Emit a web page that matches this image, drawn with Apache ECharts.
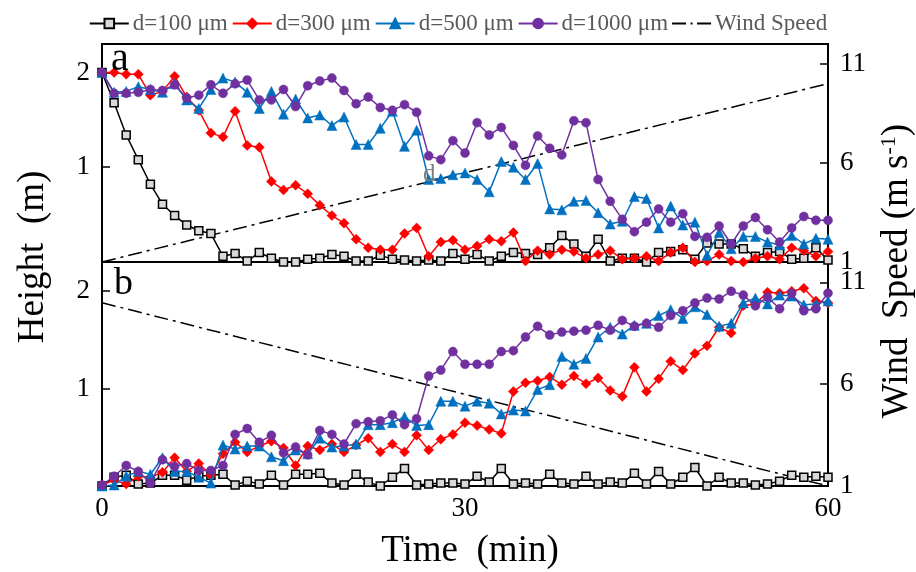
<!DOCTYPE html>
<html>
<head>
<meta charset="utf-8">
<script src="https://cdn.jsdelivr.net/npm/echarts@6/dist/echarts.min.js"></script>
<style>html,body{margin:0;padding:0;background:#fff}#chart{width:916px;height:572px}</style>
</head>
<body>
<div id="chart"></div>
<script>
// Time (min)
var timeMin = [0,1,2,3,4,5,6,7,8,9,10,11,12,13,14,15,16,17,18,19,20,21,22,23,24,25,26,27,28,29,30,31,32,33,34,35,36,37,38,39,40,41,42,43,44,45,46,47,48,49,50,51,52,53,54,55,56,57,58,59,60];

// Panel a (heights, m)
var a_d100 = [2.0,1.68,1.34,1.08,0.82,0.61,0.49,0.39,0.33,0.30,0.06,0.09,0.01,0.10,0.04,0.00,0.00,0.03,0.04,0.08,0.06,0.01,0.01,0.07,0.03,0.02,0.01,0.02,0.01,0.09,0.03,0.08,0.01,0.06,0.10,0.09,0.08,0.15,0.28,0.19,0.06,0.24,0.01,0.04,0.04,0.00,0.10,0.11,0.13,0.03,0.20,0.19,0.19,0.14,0.06,0.10,0.11,0.03,0.04,0.15,0.02];
var a_d300 = [2.0,2.0,1.98,1.98,1.76,1.80,1.96,1.74,1.60,1.36,1.32,1.59,1.23,1.21,0.85,0.76,0.81,0.72,0.60,0.49,0.41,0.24,0.15,0.13,0.13,0.30,0.36,0.06,0.21,0.23,0.13,0.17,0.24,0.22,0.31,0.01,0.12,0.08,0.13,0.11,0.04,0.08,0.12,0.03,0.04,0.06,0.01,0.10,0.15,0.00,0.01,0.08,0.01,0.00,0.04,0.06,0.03,0.15,0.12,0.06,0.11];
var a_d500 = [2.0,1.79,1.80,1.85,1.82,1.79,1.88,1.71,1.62,1.82,1.94,1.90,1.79,1.62,1.80,1.56,1.72,1.52,1.55,1.44,1.53,1.24,1.24,1.41,1.59,1.22,1.39,0.87,0.88,0.92,0.94,0.87,0.74,1.06,1.00,0.87,1.04,0.56,0.55,0.64,0.65,0.52,0.40,0.43,0.69,0.67,0.36,0.59,0.39,0.42,0.07,0.31,0.14,0.27,0.27,0.21,0.18,0.28,0.19,0.25,0.24];
var a_d1000 = [2.0,1.78,1.78,1.79,1.82,1.81,1.87,1.73,1.76,1.87,1.78,1.88,1.92,1.71,1.71,1.82,1.64,1.86,1.91,1.94,1.81,1.67,1.74,1.63,1.60,1.66,1.58,1.12,1.08,1.28,1.15,1.47,1.34,1.42,1.23,1.02,1.33,1.20,1.13,1.49,1.47,0.87,0.64,0.45,0.32,0.42,0.56,0.42,0.51,0.27,0.26,0.38,0.19,0.38,0.47,0.34,0.21,0.36,0.48,0.44,0.44];

// Panel b (heights, m)
var b_d100 = [0.00,0.09,0.11,0.02,0.03,0.11,0.11,0.06,0.10,0.11,0.12,0.01,0.05,0.02,0.11,0.01,0.12,0.12,0.13,0.03,0.01,0.12,0.04,0.00,0.09,0.18,0.01,0.02,0.03,0.03,0.02,0.10,0.04,0.18,0.02,0.03,0.02,0.12,0.03,0.02,0.10,0.02,0.04,0.03,0.13,0.02,0.15,0.02,0.09,0.19,0.00,0.09,0.03,0.03,0.01,0.02,0.05,0.11,0.09,0.10,0.09];
var b_d300 = [0.01,0.06,0.02,0.10,0.09,0.14,0.29,0.15,0.23,0.11,0.33,0.45,0.35,0.41,0.46,0.39,0.21,0.41,0.37,0.43,0.35,0.42,0.49,0.35,0.43,0.35,0.52,0.37,0.48,0.53,0.65,0.62,0.58,0.54,0.97,1.06,1.08,1.12,1.04,1.13,1.05,1.11,0.98,0.92,1.22,0.97,1.10,1.28,1.19,1.36,1.44,1.63,1.57,1.85,1.87,1.99,1.98,2.00,2.03,1.90,1.88];
var b_d500 = [0.00,0.01,0.10,0.15,0.12,0.29,0.15,0.15,0.09,0.03,0.42,0.38,0.41,0.41,0.30,0.26,0.37,0.33,0.49,0.40,0.41,0.43,0.63,0.63,0.65,0.71,0.62,0.63,0.87,0.87,0.82,0.87,0.85,0.74,0.78,0.77,0.99,1.04,1.33,1.25,1.31,1.53,1.63,1.56,1.65,1.67,1.75,1.81,1.72,1.84,1.76,1.64,1.67,1.88,1.93,1.87,1.96,1.95,1.86,1.87,1.90];
var b_d1000 = [0.01,0.10,0.21,0.15,0.03,0.27,0.20,0.23,0.16,0.16,0.21,0.53,0.59,0.45,0.52,0.34,0.40,0.32,0.57,0.53,0.43,0.64,0.66,0.67,0.73,0.63,0.69,1.13,1.19,1.38,1.25,1.25,1.25,1.38,1.39,1.53,1.64,1.55,1.58,1.59,1.60,1.65,1.60,1.70,1.64,1.67,1.63,1.75,1.80,1.88,1.93,1.92,2.00,1.96,1.85,1.94,1.82,1.98,1.80,1.82,1.98];

// Wind speed (m s-1)
var windTime = [0, 60];
var windA = [1, 10];
var windB = [10, 1];

// Tick labels
var xTicks = [0, 30, 60];
var heightTicks = [1, 2];
var windTicks = [1, 6, 11];

var names = ['d=100 \u03bcm', 'd=300 \u03bcm', 'd=500 \u03bcm', 'd=1000 \u03bcm', 'Wind Speed'];
var FONT = '"Liberation Serif", "Times New Roman", serif';

function pairs(xs, ys) { return xs.map(function (x, i) { return [x, ys[i]]; }); }

var styles = [
  { color: '#000000', symbol: 'rect', size: 8, fill: '#d9d9d9', border: '#000000' },
  { color: '#ff0000', symbol: 'diamond', size: 10, fill: '#ff0000', border: '#ff0000' },
  { color: '#0070c0', symbol: 'triangle', size: 10, fill: '#0070c0', border: '#0070c0' },
  { color: '#7030a0', symbol: 'circle', size: 9, fill: '#7030a0', border: '#7030a0' }
];

function heightSeries(k, data, gi) {
  var s = styles[k];
  return {
    name: names[k], type: 'line', xAxisIndex: gi, yAxisIndex: gi * 2,
    data: pairs(timeMin, data), symbol: s.symbol, symbolSize: s.size, showAllSymbol: true,
    clip: false, z: 3 + k,
    lineStyle: { color: s.color, width: 1.5 },
    itemStyle: { color: s.fill, borderColor: s.border, borderWidth: k === 0 ? 1.5 : 0.5 },
    emphasis: { disabled: true }, animation: false
  };
}
function windSeries(data, gi) {
  return {
    name: names[4], type: 'line', xAxisIndex: gi, yAxisIndex: gi * 2 + 1,
    data: pairs(windTime, data), symbol: 'none', z: 2,
    lineStyle: { color: '#000', width: 1.5, type: [14, 5, 3, 5] },
    itemStyle: { color: '#000' }, emphasis: { disabled: true }, animation: false
  };
}

function xAx(gi, showLabel) {
  return {
    type: 'value', gridIndex: gi, min: 0, max: 60, interval: 30,
    axisLine: { show: true, onZero: false, lineStyle: { color: '#000', width: 2 } },
    axisTick: { show: true, inside: true, length: 5, customValues: xTicks, lineStyle: { color: '#000', width: 1.5 } },
    axisLabel: { show: showLabel, color: '#000', fontFamily: FONT, fontSize: 27, margin: 9, customValues: xTicks },
    splitLine: { show: false }
  };
}
function yLeft(gi) {
  return {
    type: 'value', gridIndex: gi, position: 'left', min: 0, max: 2.3,
    axisLine: { show: true, onZero: false, lineStyle: { color: '#000', width: 2 } },
    axisTick: { show: true, inside: true, length: 8, customValues: heightTicks, lineStyle: { color: '#000', width: 1.5 } },
    axisLabel: { color: '#000', fontFamily: FONT, fontSize: 27, margin: 12, customValues: heightTicks },
    splitLine: { show: false }
  };
}
function yRight(gi) {
  return {
    type: 'value', gridIndex: gi, position: 'right', min: 1, max: 12,
    axisLine: { show: true, onZero: false, lineStyle: { color: '#000', width: 2 } },
    axisTick: { show: true, inside: true, length: 8, customValues: windTicks, lineStyle: { color: '#000', width: 1.5 } },
    axisLabel: { color: '#000', fontFamily: FONT, fontSize: 27, margin: 12, customValues: windTicks },
    splitLine: { show: false }
  };
}

// dash-dot legend icon (thin line centred in a 39x12 box)
var dashDotIcon = 'path://M0,0h0.01v0.01h-0.01zM0,5h14v2h-14zM18.5,5h2v2h-2zM25,5h14v2h-14zM38.99,11.99h0.01v0.01h-0.01z';

var chart = echarts.init(document.getElementById('chart'), null, { renderer: 'canvas' });
chart.setOption({
  animation: false,
  backgroundColor: '#fff',
  legend: {
    data: [names[0], names[1], names[2], names[3], { name: names[4], icon: dashDotIcon, itemStyle: { color: '#000' } }],
    top: 7, left: 'center', itemWidth: 39, itemHeight: 12, itemGap: 4,
    textStyle: { color: '#595959', fontFamily: FONT, fontSize: 23, padding: [0, 0, 0, -1] },
    selectedMode: false
  },
  grid: [
    { left: 102, right: 88, top: 44, height: 218, show: true, borderColor: '#000', borderWidth: 2, backgroundColor: 'transparent' },
    { left: 102, right: 88, top: 262, height: 224, show: true, borderColor: '#000', borderWidth: 2, backgroundColor: 'transparent' }
  ],
  xAxis: [xAx(0, false), xAx(1, true)],
  yAxis: [yLeft(0), yRight(0), yLeft(1), yRight(1)],
  series: [
    windSeries(windA, 0),
    heightSeries(0, a_d100, 0), heightSeries(1, a_d300, 0), heightSeries(2, a_d500, 0), heightSeries(3, a_d1000, 0),
    windSeries(windB, 1),
    heightSeries(0, b_d100, 1), heightSeries(1, b_d300, 1), heightSeries(2, b_d500, 1), heightSeries(3, b_d1000, 1)
  ],
  graphic: [
    { type: 'text', x: 111, y: 59, z: 20, style: { text: 'a', font: '40px ' + FONT, fill: '#000', verticalAlign: 'middle' } },
    { type: 'text', x: 114, y: 284, z: 20, style: { text: 'b', font: '38px ' + FONT, fill: '#000', verticalAlign: 'middle' } },
    { type: 'text', x: 423, y: 174, z: 20, style: { text: 'd', font: '25px ' + FONT, fill: '#7f7f7f', verticalAlign: 'middle' } },
    { type: 'text', x: 33, y: 257, rotation: Math.PI / 2, z: 20, style: { text: 'Height  (m)', font: '37px ' + FONT, fill: '#000', align: 'center', verticalAlign: 'middle' } },
    { type: 'text', x: 470, y: 551, z: 20, style: { text: 'Time  (min)', font: '37px ' + FONT, fill: '#000', align: 'center', verticalAlign: 'middle' } },
    { type: 'text', x: 897, y: 271, rotation: Math.PI / 2, z: 20, style: {
        text: 'Wind  Speed (m s{sup|-1})', font: '37px ' + FONT, fill: '#000', align: 'center', verticalAlign: 'middle',
        rich: { sup: { fontSize: 22, fontFamily: FONT, verticalAlign: 'top', fill: '#000' } } } }
  ]
});
</script>
</body>
</html>
